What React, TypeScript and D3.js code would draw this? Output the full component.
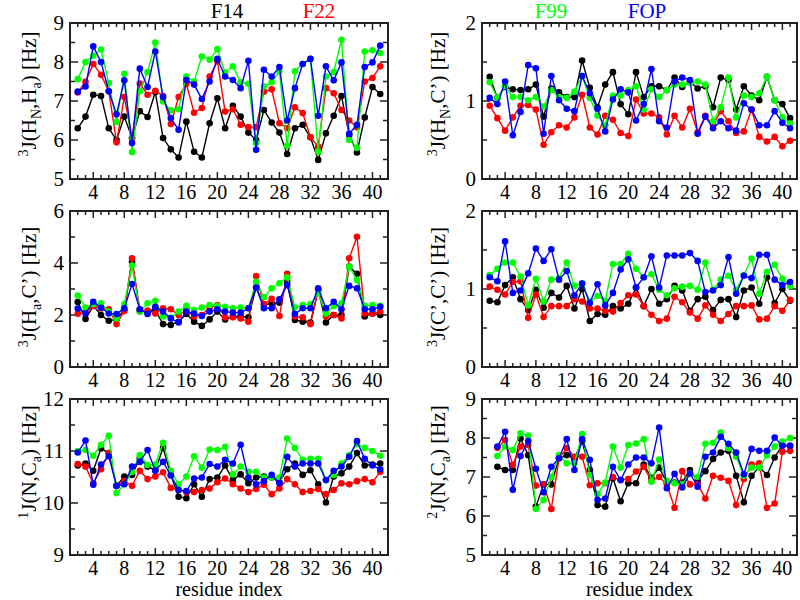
import React from 'react';
import * as d3 from 'd3';

// ---------- data ----------
const residues = d3.range(2, 42); // 2..41
const residuesFrom3 = d3.range(3, 42); // 3..41
const xTickLabels = [4, 8, 12, 16, 20, 24, 28, 32, 36, 40];
const seriesNames = ['F14', 'F22', 'F99', 'FOP'];
const seriesColors = ['#000000', '#ff0000', '#00ff00', '#0000ff'];

// 3J(HN,Ha)
const hnhaF14 = [6.30, 6.60, 7.16, 7.13, 6.30, 6.00, 6.60, 6.05, 6.74, 6.59, 7.23, 6.05, 5.76, 5.55, 6.47, 5.70, 5.55, 6.43, 7.07, 6.30, 6.88, 6.60, 6.19, 6.00, 6.77, 6.45, 6.19, 5.64, 6.30, 6.39, 6.07, 5.49, 6.17, 6.62, 7.13, 6.13, 5.68, 6.58, 7.36, 7.18];
const hnhaF22 = [7.22, 7.49, 7.95, 7.67, 7.25, 5.94, 7.10, 6.05, 7.45, 7.16, 7.26, 7.13, 6.41, 7.10, 7.44, 6.70, 6.82, 7.63, 8.02, 6.73, 6.79, 6.39, 6.33, 6.33, 7.24, 7.30, 6.43, 6.30, 6.84, 6.69, 6.07, 5.83, 7.33, 7.20, 6.77, 6.50, 6.33, 7.50, 7.59, 7.89];
const hnhaF99 = [7.56, 8.00, 8.16, 8.32, 7.46, 6.46, 7.70, 5.69, 7.25, 7.74, 8.50, 6.99, 6.76, 6.79, 7.63, 7.50, 8.14, 8.06, 8.33, 7.73, 7.89, 7.48, 7.44, 5.92, 7.37, 7.48, 7.76, 5.85, 7.76, 7.95, 8.08, 5.70, 7.63, 7.74, 8.57, 6.00, 5.80, 8.27, 8.30, 8.23];
const hnhaFOP = [7.24, 7.37, 8.40, 8.00, 7.25, 6.66, 7.53, 5.92, 7.83, 7.36, 8.27, 7.10, 6.56, 6.26, 7.54, 7.42, 7.05, 7.50, 8.08, 7.63, 7.54, 7.33, 8.03, 5.75, 7.80, 7.63, 7.87, 6.50, 7.33, 7.95, 8.08, 6.62, 7.89, 7.53, 7.99, 6.16, 6.39, 7.87, 7.99, 8.42];

// 3J(HN,C')
const hncF14 = [1.31, 1.04, 1.18, 1.15, 1.14, 1.15, 1.21, 0.80, 1.16, 1.11, 1.05, 1.05, 1.52, 1.17, 0.92, 1.21, 1.37, 0.96, 0.83, 1.37, 1.05, 1.19, 1.19, 1.14, 1.30, 1.18, 1.25, 1.16, 1.19, 0.92, 1.30, 1.27, 0.89, 1.19, 1.07, 1.01, 1.31, 1.01, 0.96, 0.78];
const hncF22 = [0.94, 0.78, 0.62, 0.79, 0.94, 0.95, 0.89, 0.44, 0.60, 0.69, 0.66, 0.79, 1.08, 0.66, 0.57, 0.81, 0.76, 0.59, 0.55, 1.02, 0.84, 0.84, 0.79, 0.57, 0.81, 0.66, 0.90, 0.60, 0.81, 0.69, 0.87, 0.74, 0.59, 0.61, 0.89, 0.54, 0.48, 0.54, 0.42, 0.49];
const hncF99 = [1.24, 1.04, 1.19, 1.05, 1.05, 1.01, 1.05, 0.93, 1.14, 1.05, 1.04, 1.12, 1.32, 1.04, 0.81, 0.69, 1.07, 1.07, 1.14, 1.19, 0.89, 1.15, 1.05, 1.14, 1.21, 1.21, 1.23, 1.25, 1.21, 0.74, 0.92, 1.30, 0.79, 1.07, 1.05, 1.10, 1.31, 1.01, 0.79, 0.71];
const hncFOP = [1.04, 0.96, 1.25, 0.56, 0.86, 1.46, 1.42, 0.58, 1.32, 1.01, 0.90, 0.87, 1.32, 1.10, 0.90, 0.61, 1.02, 1.15, 1.11, 0.75, 0.96, 1.41, 0.74, 0.66, 1.25, 1.30, 1.27, 0.58, 0.80, 0.65, 0.74, 0.65, 0.62, 0.97, 0.89, 0.69, 0.69, 0.87, 0.72, 0.65];

// 3J(Ha,C')
const hacF14 = [2.50, 1.85, 2.35, 2.00, 1.78, 1.83, 2.19, 4.05, 2.19, 2.10, 2.19, 1.65, 1.62, 1.74, 2.04, 1.74, 1.58, 1.83, 2.13, 1.83, 1.94, 1.94, 1.91, 3.06, 2.38, 2.45, 2.47, 3.28, 1.81, 1.74, 1.71, 2.96, 1.71, 2.00, 2.00, 3.86, 3.58, 1.94, 2.06, 2.00];
const hacF22 = [2.05, 2.10, 2.35, 2.25, 2.22, 1.65, 2.15, 4.18, 2.13, 2.17, 2.06, 2.26, 2.22, 2.00, 2.19, 1.94, 2.00, 2.30, 2.38, 1.91, 1.91, 1.87, 1.74, 3.50, 2.42, 2.62, 1.96, 3.58, 1.94, 1.91, 1.65, 2.96, 1.94, 2.00, 1.87, 4.18, 5.01, 2.06, 2.06, 2.13];
const hacF99 = [2.75, 2.29, 2.42, 2.45, 2.13, 1.87, 2.42, 3.90, 2.13, 2.45, 2.55, 1.94, 1.90, 2.13, 2.35, 2.19, 2.29, 2.38, 2.35, 2.32, 2.26, 2.29, 2.26, 3.28, 2.68, 3.03, 3.22, 3.45, 2.29, 2.38, 2.42, 2.83, 2.06, 2.35, 2.45, 3.86, 3.35, 2.35, 2.38, 2.35];
const hacFOP = [2.25, 2.06, 2.51, 2.28, 2.06, 2.04, 2.26, 3.19, 2.22, 2.04, 2.32, 2.13, 1.87, 1.71, 2.13, 2.06, 1.96, 2.13, 2.22, 2.13, 2.09, 2.09, 2.26, 3.06, 2.26, 2.26, 2.60, 3.15, 2.04, 2.26, 2.26, 3.03, 2.26, 2.51, 2.22, 3.12, 3.03, 2.22, 2.22, 2.32];

// 3J(C',C')
const ccF14 = [0.85, 0.83, 1.05, 1.15, 0.87, 0.73, 0.99, 0.76, 0.95, 0.89, 1.04, 0.75, 1.00, 0.59, 0.68, 0.67, 0.78, 0.75, 0.81, 1.02, 0.78, 1.00, 0.81, 0.87, 1.04, 0.98, 0.72, 0.87, 0.90, 0.73, 0.86, 0.87, 0.64, 0.98, 1.02, 0.81, 1.15, 0.82, 1.00, 0.85];
const ccF22 = [1.03, 0.99, 0.93, 1.09, 1.10, 0.63, 0.93, 0.64, 0.78, 0.78, 0.78, 0.87, 0.84, 0.75, 0.75, 0.72, 0.71, 0.82, 0.92, 0.93, 0.78, 0.67, 0.59, 0.62, 0.90, 0.83, 0.70, 0.62, 0.79, 0.67, 0.59, 0.68, 0.78, 0.78, 0.79, 0.61, 0.62, 0.78, 0.72, 0.86];
const ccF99 = [1.18, 1.26, 1.34, 1.34, 1.16, 0.79, 1.13, 0.84, 1.12, 1.14, 1.34, 1.04, 1.07, 0.84, 0.91, 0.85, 1.32, 1.32, 1.45, 1.26, 1.15, 1.19, 0.99, 0.92, 1.01, 1.03, 1.04, 0.99, 1.34, 0.99, 1.12, 1.17, 0.99, 1.18, 1.39, 0.94, 1.22, 1.31, 1.13, 1.04];
const ccFOP = [1.15, 1.10, 1.61, 0.95, 0.98, 1.20, 1.52, 1.36, 1.51, 1.12, 1.23, 0.92, 1.07, 0.82, 1.06, 0.79, 0.95, 1.25, 1.38, 1.02, 1.15, 1.42, 1.02, 1.43, 1.43, 1.43, 1.46, 1.36, 0.96, 0.98, 1.05, 1.41, 0.94, 1.17, 1.14, 1.44, 1.44, 1.12, 1.05, 1.09];

// 1J(N,Ca)
const nca1F14 = [10.72, 10.76, 10.62, 11.05, 10.96, 10.33, 10.51, 10.54, 10.86, 10.70, 10.63, 11.06, 10.54, 10.12, 10.09, 10.36, 10.12, 10.46, 10.49, 10.72, 10.44, 10.55, 10.38, 10.49, 10.51, 10.49, 10.40, 10.65, 10.76, 10.54, 10.63, 10.36, 10.01, 10.51, 10.57, 10.70, 10.96, 10.72, 10.74, 10.76];
const nca1F22 = [10.75, 10.70, 10.38, 10.65, 10.96, 10.33, 10.42, 10.33, 10.62, 10.46, 10.51, 10.59, 10.29, 10.25, 10.21, 10.21, 10.25, 10.28, 10.40, 10.47, 10.36, 10.28, 10.21, 10.27, 10.35, 10.17, 10.28, 10.46, 10.36, 10.21, 10.23, 10.27, 10.17, 10.25, 10.38, 10.36, 10.42, 10.46, 10.40, 10.60];
const nca1F99 = [11.00, 11.02, 10.91, 11.12, 11.29, 10.19, 10.36, 10.60, 10.92, 10.73, 10.74, 11.16, 10.62, 10.36, 10.51, 10.90, 10.68, 11.03, 11.02, 11.08, 10.55, 10.70, 10.60, 10.60, 10.49, 10.49, 10.49, 11.24, 11.06, 10.83, 10.85, 10.85, 10.44, 10.54, 10.76, 10.92, 11.13, 11.06, 11.00, 10.91];
const nca1FOP = [10.97, 11.20, 10.35, 10.74, 10.90, 10.33, 10.36, 10.70, 10.79, 11.02, 10.62, 10.79, 10.53, 10.25, 10.23, 10.47, 10.49, 10.75, 10.70, 10.83, 10.76, 11.12, 10.49, 10.36, 10.42, 10.54, 10.38, 10.89, 10.70, 10.76, 10.76, 10.76, 10.44, 10.62, 10.70, 10.89, 11.19, 10.85, 10.72, 10.65];

// 2J(N,Ca)  (residues 3..41)
const nca2F14 = [7.26, 7.18, 7.18, 7.99, 7.56, 6.24, 6.81, 6.81, 7.48, 7.56, 7.48, 7.91, 7.18, 6.28, 6.24, 6.97, 6.38, 6.84, 6.84, 7.32, 6.98, 7.24, 6.86, 6.86, 6.86, 7.18, 6.90, 7.15, 7.46, 7.63, 7.67, 7.03, 6.35, 7.03, 7.26, 7.05, 7.50, 7.82, 7.80];
const nca2F22 = [7.75, 7.95, 7.31, 7.78, 7.82, 6.78, 6.81, 6.18, 7.48, 7.74, 7.52, 7.52, 6.79, 6.84, 6.84, 7.00, 6.92, 6.95, 7.14, 7.26, 6.90, 7.00, 6.81, 6.21, 7.15, 6.81, 6.81, 6.45, 7.03, 6.98, 6.90, 6.28, 6.95, 7.32, 7.35, 6.21, 6.32, 7.65, 7.67];
const nca2F99 = [7.54, 7.78, 7.69, 8.12, 8.06, 6.18, 6.41, 7.00, 7.56, 7.35, 7.35, 8.10, 7.05, 6.56, 6.86, 7.78, 7.24, 7.82, 7.86, 7.97, 6.88, 7.45, 6.90, 6.84, 6.81, 7.09, 7.00, 7.85, 7.88, 8.14, 7.74, 7.52, 7.03, 7.24, 7.24, 7.56, 7.78, 7.91, 8.00];
const nca2FOP = [7.78, 8.16, 6.67, 7.54, 7.92, 7.21, 6.61, 7.26, 7.48, 7.97, 7.18, 7.97, 7.44, 6.41, 6.45, 7.26, 6.92, 7.32, 7.50, 7.50, 7.35, 8.27, 6.71, 7.08, 6.73, 7.09, 6.75, 7.52, 7.63, 8.03, 7.85, 7.63, 7.07, 7.72, 7.67, 7.67, 8.01, 7.80, 7.80];

// y tick labels per panel
const yTicksHNHa = [5, 6, 7, 8, 9];
const yTicksHNC = [0, 1, 2];
const yTicksHaC = [0, 2, 4, 6];
const yTicksCC = [0, 1, 2];
const yTicksNCa1 = [9, 10, 11, 12];
const yTicksNCa2 = [5, 6, 7, 8, 9];

type Seg = { t: string; s?: 'sup' | 'sub' };
const titleHNHa: Seg[] = [{ t: '3', s: 'sup' }, { t: 'J(H' }, { t: 'N', s: 'sub' }, { t: ',H' }, { t: 'a', s: 'sub' }, { t: ') [Hz]' }];
const titleHNC: Seg[] = [{ t: '3', s: 'sup' }, { t: 'J(H' }, { t: 'N', s: 'sub' }, { t: ',C’) [Hz]' }];
const titleHaC: Seg[] = [{ t: '3', s: 'sup' }, { t: 'J(H' }, { t: 'a', s: 'sub' }, { t: ',C’) [Hz]' }];
const titleCC: Seg[] = [{ t: '3', s: 'sup' }, { t: 'J(C’,C’) [Hz]' }];
const titleNCa1: Seg[] = [{ t: '1', s: 'sup' }, { t: 'J(N,C' }, { t: 'a', s: 'sub' }, { t: ') [Hz]' }];
const titleNCa2: Seg[] = [{ t: '2', s: 'sup' }, { t: 'J(N,C' }, { t: 'a', s: 'sub' }, { t: ') [Hz]' }];

// ---------- layout ----------
const FONT = "'Liberation Serif', 'Times New Roman', Times, 'DejaVu Serif', serif";
const cols = [
  { x0: 70, x1: 388, dmax: 42, titleX: 36 },
  { x0: 482, x1: 797, dmax: 41.9, titleX: 445 },
];
const rows = [
  { y0: 23, y1: 179, titleY: 94 },
  { y0: 211, y1: 367, titleY: 287 },
  { y0: 399, y1: 555, titleY: 462 },
];

const panels = [
  { col: 0, row: 0, title: titleHNHa, yTicks: yTicksHNHa, minor: 0.5, xs: residues, series: [hnhaF14, hnhaF22, hnhaF99, hnhaFOP] },
  { col: 1, row: 0, title: titleHNC, yTicks: yTicksHNC, minor: 0.5, xs: residues, series: [hncF14, hncF22, hncF99, hncFOP] },
  { col: 0, row: 1, title: titleHaC, yTicks: yTicksHaC, minor: 1, xs: residues, series: [hacF14, hacF22, hacF99, hacFOP] },
  { col: 1, row: 1, title: titleCC, yTicks: yTicksCC, minor: 0.5, xs: residues, series: [ccF14, ccF22, ccF99, ccFOP] },
  { col: 0, row: 2, title: titleNCa1, yTicks: yTicksNCa1, minor: 0.5, xs: residues, series: [nca1F14, nca1F22, nca1F99, nca1FOP] },
  { col: 1, row: 2, title: titleNCa2, yTicks: yTicksNCa2, minor: 0.5, xs: residuesFrom3, series: [nca2F14, nca2F22, nca2F99, nca2FOP] },
];

const legendPos = [227, 319, 551, 647];

function Title({ segs, x, y }: { segs: Seg[]; x: number; y: number }) {
  let cur = 0;
  const parts = segs.map((s, i) => {
    const target = s.s === 'sup' ? -8 : s.s === 'sub' ? 5 : 0;
    const dy = target - cur;
    cur = target;
    return (
      <tspan key={i} dy={dy} style={{ fontSize: s.s ? 14 : 21 }}>
        {s.t}
      </tspan>
    );
  });
  return (
    <text transform={`translate(${x},${y}) rotate(-90)`} textAnchor="middle" style={{ fontFamily: FONT, fontSize: 21 }} fill="#000">
      {parts}
    </text>
  );
}

function Panel({ p }: { p: (typeof panels)[number] }) {
  const c = cols[p.col];
  const r = rows[p.row];
  const yMin = p.yTicks[0];
  const yMax = p.yTicks[p.yTicks.length - 1];
  const x = d3.scaleLinear().domain([1, c.dmax]).range([c.x0, c.x1]);
  const y = d3.scaleLinear().domain([yMin, yMax]).range([r.y1, r.y0]);
  const line = d3
    .line<[number, number]>()
    .x((d) => x(d[0]))
    .y((d) => y(d[1]));
  const xMinor = d3.range(1, Math.floor(c.dmax) + 1).filter((v) => x(v) > c.x0 + 0.5 && x(v) < c.x1 - 0.5);
  const yMinor = d3.range(yMin, yMax + 1e-9, p.minor).filter((v) => v > yMin && v < yMax);
  const tickStroke = '#222';
  return (
    <g>
      {xMinor.map((v) => {
        const len = v % 4 === 0 ? 7 : 4;
        const xx = x(v);
        return (
          <g key={'xt' + v} stroke={tickStroke} strokeWidth={1.5}>
            <line x1={xx} x2={xx} y1={r.y1} y2={r.y1 - len} />
            <line x1={xx} x2={xx} y1={r.y0} y2={r.y0 + len} />
          </g>
        );
      })}
      {yMinor.map((v) => {
        const major = p.yTicks.includes(+v.toFixed(6));
        const len = major ? 8 : 5;
        const yy = y(v);
        return (
          <g key={'yt' + v} stroke={tickStroke} strokeWidth={1.5}>
            <line x1={c.x0} x2={c.x0 + len} y1={yy} y2={yy} />
            <line x1={c.x1} x2={c.x1 - len} y1={yy} y2={yy} />
          </g>
        );
      })}
      {p.series.map((vals, si) => {
        const pts: [number, number][] = vals.map((v, i) => [p.xs[i], v]);
        return (
          <g key={'s' + si}>
            <path d={line(pts) || ''} fill="none" stroke={seriesColors[si]} strokeWidth={1.4} />
            {pts.map((d, i) => (
              <circle key={i} cx={x(d[0])} cy={y(d[1])} r={3.3} fill={seriesColors[si]} />
            ))}
          </g>
        );
      })}
      <rect x={c.x0} y={r.y0} width={c.x1 - c.x0} height={r.y1 - r.y0} fill="none" stroke="#222" strokeWidth={2} />
      {xTickLabels.map((v) => (
        <text key={'xl' + v} x={x(v)} y={r.y1 + 20} textAnchor="middle" style={{ fontFamily: FONT, fontSize: 20 }} fill="#000">
          {v}
        </text>
      ))}
      {p.yTicks.map((v) => (
        <text key={'yl' + v} x={c.x0 - 6} y={y(v)} dy="0.35em" textAnchor="end" style={{ fontFamily: FONT, fontSize: 21 }} fill="#000">
          {v}
        </text>
      ))}
      <Title segs={p.title} x={c.titleX} y={r.titleY} />
    </g>
  );
}

export default function App() {
  return (
    <svg width={800} height={600} style={{ position: 'absolute', left: 0, top: 0, background: '#fff' }}>
      <rect x={0} y={0} width={800} height={600} fill="#fff" />
      {panels.map((p, i) => (
        <Panel key={i} p={p} />
      ))}
      {seriesNames.map((n, i) => (
        <text key={n} x={legendPos[i]} y={18} textAnchor="middle" style={{ fontFamily: FONT, fontSize: 21 }} fill={seriesColors[i]}>
          {n}
        </text>
      ))}
      {cols.map((c, i) => (
        <text key={'rx' + i} x={(c.x0 + c.x1) / 2} y={595.5} textAnchor="middle" style={{ fontFamily: FONT, fontSize: 20 }} fill="#000">
          residue index
        </text>
      ))}
    </svg>
  );
}
